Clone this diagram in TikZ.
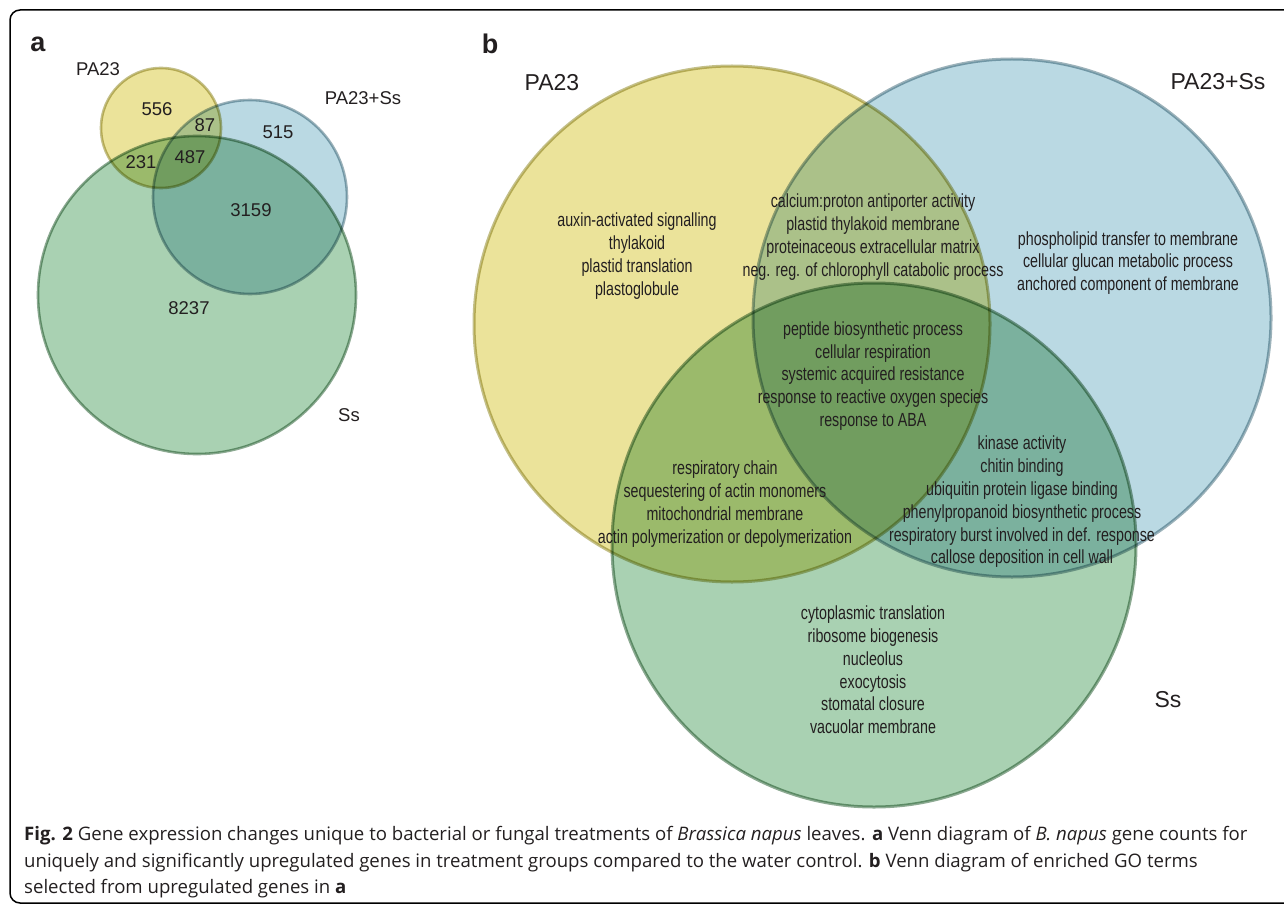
\documentclass[tikz,border=0pt]{standalone}
\usepackage{fontspec}
\setmainfont{Liberation Sans}
\newfontfamily\condfont[FakeStretch=0.75]{Liberation Sans}
\newfontfamily\capfont{Open Sans}
\definecolor{vyel}{RGB}{235,227,154}
\definecolor{vyeld}{RGB}{196,192,138}
\definecolor{vblu}{RGB}{186,217,227}
\definecolor{vblud}{RGB}{156,178,186}
\definecolor{vgrn}{RGB}{169,209,178}
\definecolor{vgrnd}{RGB}{140,170,146}
\definecolor{ink}{RGB}{35,31,32}
\begin{document}
\begin{tikzpicture}
[x=1pt,y=-1pt,%
  every node/.style={text=ink,inner sep=0pt},%
  yset/.style={fill=vyel,draw=vyeld},%
  bset/.style={fill=vblu,draw=vblud},%
  gset/.style={fill=vgrn,draw=vgrnd},%
  panel/.style={font=\fontsize{27}{30}\selectfont\bfseries},%
  count/.style={font=\fontsize{18.5}{21}\selectfont},%
  setname/.style={font=\fontsize{23}{26}\selectfont},%
  goterm/.style={font=\condfont\fontsize{19}{22.8}\selectfont,align=center},%
  capline/.style={anchor=base west,font=\capfont\fontsize{18.6}{22}\selectfont}]
\useasboundingbox (0,0) rectangle (1284,904);
\clip (0,0) rectangle (1284,904);
\draw[line width=1.5pt,rounded corners=10pt] (10,10) rectangle (1330,903);
% a
\begin{scope}[blend mode=multiply,line width=2.6pt]
  \filldraw[gset] (197,295) circle [radius=159];
  \filldraw[bset] (250,197) circle [radius=97];
  \filldraw[yset] (161,128) circle [radius=60];
\end{scope}
\node[panel] (pa) at (38,44) {a};
\node[count] (aPA) at (98,69) {PA23};
\node[count] (aPS) at (363,98) {PA23+Ss};
\node[count] (aSs) at (349,415) {Ss};
\node[count] (n556) at (157,109) {556};
\node[count] (n87) at (205,125) {87};
\node[count] (n515) at (278,132) {515};
\node[count] (n231) at (141,162) {231};
\node[count] (n487) at (190,157) {487};
\node[count] (n3159) at (251,210) {3159};
\node[count] (n8237) at (189,308) {8237};
% b
\begin{scope}[blend mode=multiply,line width=3pt]
  \filldraw[gset] (874,545) circle [radius=262];
  \filldraw[bset] (1012,318) circle [radius=259];
  \filldraw[yset] (732,324) circle [radius=258];
\end{scope}
\node[panel] (pb) at (490,44) {b};
\node[setname] (bPA) at (552,83) {PA23};
\node[setname] (bPS) at (1218,82) {PA23+Ss};
\node[setname] (bSs) at (1168,700) {Ss};
\node[goterm] (gY) at (637,256) {auxin-activated signalling\\thylakoid\\plastid translation\\plastoglobule};
\node[goterm] (gYB) at (873,237) {calcium:proton antiporter activity\\plastid thylakoid membrane\\proteinaceous extracellular matrix\\neg. reg. of chlorophyll catabolic process};
\node[goterm] (gB) at (1128,263) {phospholipid transfer to membrane\\cellular glucan metabolic process\\anchored component of membrane};
\node[goterm] (gYBG) at (873,376) {peptide biosynthetic process\\cellular respiration\\systemic acquired resistance\\response to reactive oxygen species\\response to ABA};
\node[goterm] (gYG) at (725,504) {respiratory chain\\sequestering of actin monomers\\mitochondrial membrane\\actin polymerization or depolymerization};
\node[goterm] (gBG) at (1022,502) {kinase activity\\chitin binding\\ubiquitin protein ligase binding\\phenylpropanoid biosynthetic process\\respiratory burst involved in def. response\\callose deposition in cell wall};
\node[goterm] (gG) at (873,670) {cytoplasmic translation\\ribosome biogenesis\\nucleolus\\exocytosis\\stomatal closure\\vacuolar membrane};
% caption
\node[capline] (cap1) at (24,840) {\textbf{Fig. 2} Gene expression changes unique to bacterial or fungal treatments of \textit{Brassica napus} leaves. \textbf{a} Venn diagram of \textit{B. napus} gene counts for};
\node[capline] (cap2) at (24,867) {uniquely and significantly upregulated genes in treatment groups compared to the water control. \textbf{b} Venn diagram of enriched GO terms};
\node[capline] (cap3) at (24,893) {selected from upregulated genes in \textbf{a}};
\end{tikzpicture}
\end{document}
